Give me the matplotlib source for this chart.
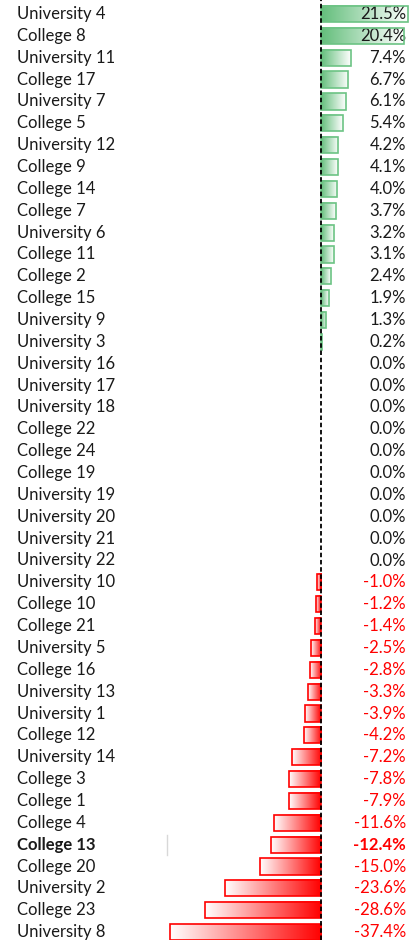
import numpy as np
import matplotlib
matplotlib.use("Agg")
import matplotlib.pyplot as plt
from matplotlib.patches import Rectangle
from matplotlib.colors import LinearSegmentedColormap

names = ["University 4", "College 8", "University 11", "College 17", "University 7",
         "College 5", "University 12", "College 9", "College 14", "College 7",
         "University 6", "College 11", "College 2", "College 15", "University 9",
         "University 3", "University 16", "University 17", "University 18", "College 22",
         "College 24", "College 19", "University 19", "University 20", "University 21",
         "University 22", "University 10", "College 10", "College 21", "University 5",
         "College 16", "University 13", "University 1", "College 12", "University 14",
         "College 3", "College 1", "College 4", "College 13", "College 20",
         "University 2", "College 23", "University 8"]
values = [21.5, 20.4, 7.4, 6.7, 6.1, 5.4, 4.2, 4.1, 4.0, 3.7, 3.2, 3.1, 2.4, 1.9, 1.3,
          0.2, 0.0, 0.0, 0.0, 0.0, 0.0, 0.0, 0.0, 0.0, 0.0, 0.0, -1.0, -1.2, -1.4, -2.5,
          -2.8, -3.3, -3.9, -4.2, -7.2, -7.8, -7.9, -11.6, -12.4, -15.0, -23.6, -28.6, -37.4]
bold_name = "College 13"

W, H = 411, 940
fig = plt.figure(figsize=(W / 100, H / 100), dpi=100)
ax = fig.add_axes([0, 0, 1, 1])

px = 4.05          # pixels per percent
x0 = 321           # pixel of the zero line
row = 21.86
top = 14
xmin = -x0 / px
xmax = (W - x0) / px

green = LinearSegmentedColormap.from_list("g", ["#63BE7B", "#FFFFFF"])
red = LinearSegmentedColormap.from_list("r", ["#FFFFFF", "#FF0000"])
grad = np.linspace(0, 1, 256).reshape(1, -1)

bh = 0.74
fs = 12
for i, (nm, v) in enumerate(zip(names, values)):
    y = i
    wt = "bold" if nm == bold_name else "normal"
    ax.text(17 / W, y, nm, transform=ax.get_yaxis_transform(), ha="left", va="center",
            fontsize=fs, color="#1a1a1a", family="Lato", fontweight=wt)
    col = "#FF0000" if v < 0 else "#1a1a1a"
    ax.text(406 / W, y, "%.1f%%" % v, transform=ax.get_yaxis_transform(), ha="right",
            va="center", fontsize=fs, color=col, family="Lato", fontweight=wt)
    if v == 0:
        continue
    if v > 0:
        ax.imshow(grad, cmap=green, extent=[0, v, y + bh / 2, y - bh / 2],
                  aspect="auto", zorder=2, interpolation="bilinear")
        ax.add_patch(Rectangle((0, y - bh / 2), v, bh, fill=False, ec="#6CC384",
                               lw=1.2, zorder=3))
    else:
        ax.imshow(grad, cmap=red, extent=[v, 0, y + bh / 2, y - bh / 2],
                  aspect="auto", zorder=2, interpolation="bilinear")
        ax.add_patch(Rectangle((v, y - bh / 2), -v, bh, fill=False, ec="#FF0000",
                               lw=1.2, zorder=3))

# faint cell edge beside the selected row
i13 = names.index(bold_name)
ax.plot([(167 - x0) / px] * 2, [i13 - 0.45, i13 + 0.45], color="#d8d8d8", lw=1, zorder=1)

ax.axvline(0, color="black", lw=1.3, ls=(0, (2.5, 1.5)), zorder=4)

ax.set_xlim(xmin, xmax)
ytop = -top / row
ybot = ytop + H / row
ax.set_ylim(ybot, ytop)
ax.axis("off")

fig.savefig("out.png", dpi=100)
